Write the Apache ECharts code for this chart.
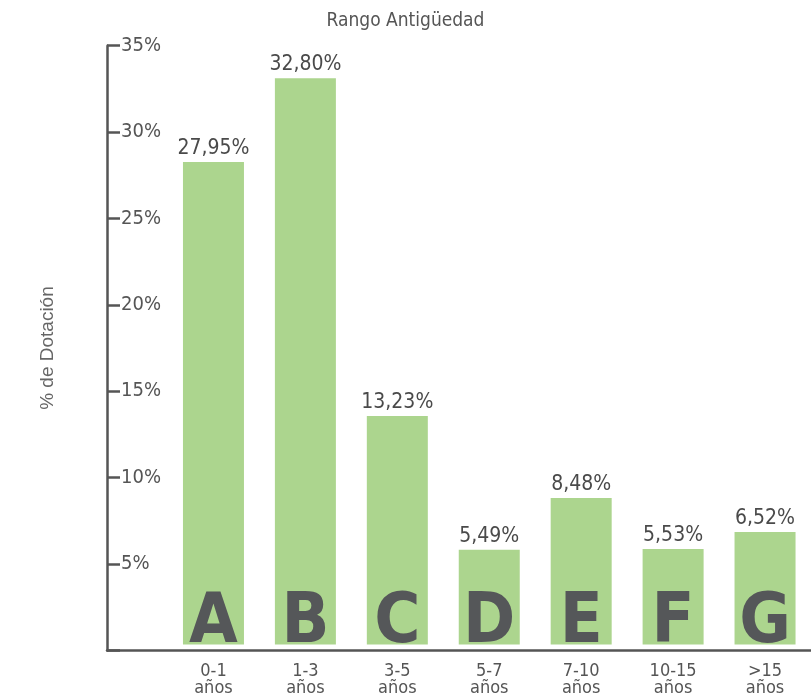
<!DOCTYPE html>
<html><head><meta charset="utf-8">
<script src="https://cdn.jsdelivr.net/npm/echarts@6/dist/echarts.min.js"></script>
<style>html,body{margin:0;padding:0;background:#fff}#c{width:811px;height:697px}</style>
</head><body><div id="c"></div>
<script>
var categories = ['0-1\naños', '1-3\naños', '3-5\naños', '5-7\naños', '7-10\naños', '10-15\naños', '>15\naños'];
var letters = ['A', 'B', 'C', 'D', 'E', 'F', 'G'];
var values = [27.95, 32.80, 13.23, 5.49, 8.48, 5.53, 6.52];
var valueLabels = ['27,95%', '32,80%', '13,23%', '5,49%', '8,48%', '5,53%', '6,52%'];
var yTicks = [0, 5, 10, 15, 20, 25, 30, 35];

var FN = "'DejaVu Sans Condensed', sans-serif";
var chart = echarts.init(document.getElementById('c'));
chart.setOption({
  animation: false,
  title: {
    text: 'Rango Antigüedad', left: 'center', top: 7,
    textStyle: { fontFamily: FN, fontSize: 19, fontWeight: 'normal', color: '#555' }
  },
  grid: [
    { left: 107, right: 0, top: 45.7, bottom: 46.6, containLabel: false },
    { left: 167.5, width: 646, top: 40.3, bottom: 52, containLabel: false }
  ],
  xAxis: [
    { gridIndex: 0, type: 'value', min: 0, max: 1,
      axisLine: { show: true, lineStyle: { color: '#555', width: 2.5 } },
      axisTick: { show: false }, axisLabel: { show: false }, splitLine: { show: false } },
    { gridIndex: 1, type: 'category', data: categories,
      axisLine: { show: false }, axisTick: { show: false }, splitLine: { show: false },
      axisLabel: { show: true, margin: 18, interval: 0, fontFamily: FN, fontSize: 18, lineHeight: 17, color: '#555' } }
  ],
  yAxis: [
    { gridIndex: 0, type: 'value', min: 0, max: 35, interval: 5,
      name: '% de Dotación', nameLocation: 'middle', nameGap: 50, nameRotate: 90,
      nameTextStyle: { fontFamily: "'Liberation Sans', sans-serif", fontSize: 19, color: '#666' },
      axisLine: { show: true, lineStyle: { color: '#555', width: 2.5 } },
      axisTick: { show: true, inside: true, length: 13, lineStyle: { color: '#555', width: 2.5 } },
      axisLabel: { inside: true, margin: 14, fontFamily: FN, fontSize: 20, color: '#555',
        formatter: function (v) { return v === 0 ? '' : v + '%'; } },
      splitLine: { show: false } },
    { gridIndex: 1, type: 'value', min: 0, max: 35, interval: 5, show: false }
  ],
  series: [
    { type: 'bar', xAxisIndex: 1, yAxisIndex: 1, data: values, barWidth: 61,
      itemStyle: { color: '#acd58e' },
      label: { show: true, position: 'top', distance: 3, fontFamily: FN, fontSize: 21, color: '#4a4a4a',
        formatter: function (p) { return valueLabels[p.dataIndex]; } } },
    { type: 'bar', xAxisIndex: 1, yAxisIndex: 1, data: values, barWidth: 61, barGap: '-100%',
      itemStyle: { color: 'rgba(0,0,0,0)' }, silent: true,
      label: { show: true, position: 'insideBottom', distance: -14, fontFamily: FN, fontSize: 70, fontWeight: 'bold', color: '#555759',
        formatter: function (p) { return letters[p.dataIndex]; } } }
  ]
});
</script></body></html>
